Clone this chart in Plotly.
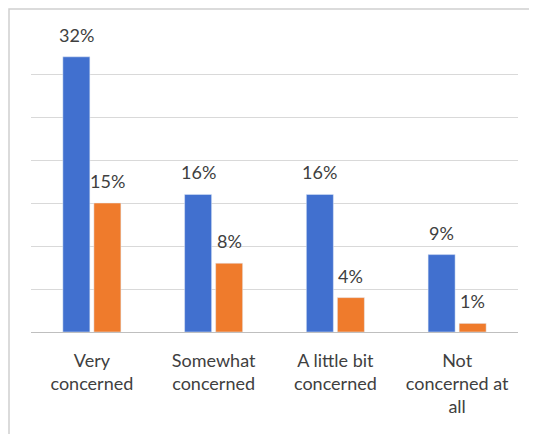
import plotly.graph_objects as go

categories = ["Very<br>concerned", "Somewhat<br>concerned", "A little bit<br>concerned", "Not<br>concerned at<br>all"]
series1 = [32, 16, 16, 9]
series2 = [15, 8, 4, 1]

blue = "#4170CF"
orange = "#EF7B2C"
text_col = "#404040"
font_name = "Lato, Open Sans, sans-serif"

# page body has an 8px margin, so the figure is sized to fit the window
W, H = 529, 426
ml, mr, mt, mb = 23, 19, 23, 102
pw = W - ml - mr
ph = H - mt - mb
bargap = 0.49
slot = pw / len(categories) * (1 - bargap) / 2

fig = go.Figure()
fig.add_trace(go.Bar(x=categories, y=series1, name="Series 1", marker_color=blue))
fig.add_trace(go.Bar(x=categories, y=series2, name="Series 2", marker_color=orange))

annotations = []
for vals, sh in [(series1, -slot / 2), (series2, slot / 2)]:
    for c, v in zip(categories, vals):
        annotations.append(dict(
            x=c, y=v, text=f"{v}%", showarrow=False,
            xshift=sh, yshift=9, yanchor="bottom",
            font=dict(size=18, color=text_col),
        ))

fig.update_layout(
    width=W, height=H,
    margin=dict(l=ml, r=mr, t=mt, b=mb),
    barmode="group",
    bargap=bargap,
    bargroupgap=0.13,
    showlegend=False,
    plot_bgcolor="white",
    paper_bgcolor="white",
    font=dict(family=font_name, color=text_col, size=18),
    xaxis=dict(showgrid=False, showline=True, linecolor="#BFBFBF",
               tickfont=dict(size=18, color=text_col), ticks="",
               ticklabelstandoff=12),
    yaxis=dict(range=[0, 35], dtick=5, showticklabels=False,
               showgrid=True, gridcolor="#D9D9D9", zeroline=False),
    annotations=annotations,
    shapes=[dict(type="rect", xref="paper", yref="paper",
                 x0=(1 - ml) / pw, x1=(W + 6 - ml) / pw,
                 y0=-(mb + 20) / ph, y1=1 + (mt - 1) / ph,
                 line=dict(color="#D0D0D0", width=1.5), layer="below")],
)

fig.write_html("out.html")
